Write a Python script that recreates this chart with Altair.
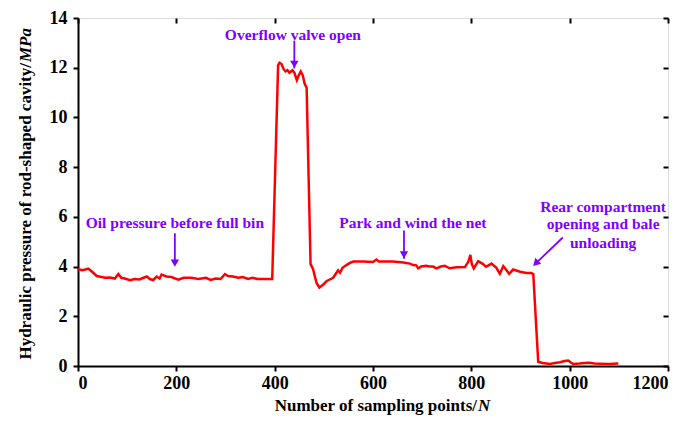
import altair as alt
import pandas as pd

# ---- data ----
xs = [0, 8, 15, 21, 28, 38, 48, 55, 65, 75, 82, 88, 95, 106, 115, 125, 133, 140, 146, 153,
      160, 166, 170, 180, 190, 204, 215, 230, 245, 251, 260, 270, 280, 290, 299, 305, 315, 326,
      335, 346, 355, 365, 380, 395,
      407, 410, 414, 418, 422, 426, 430, 436, 440, 445, 449, 453, 457, 461, 465,
      473, 478, 485, 491, 500, 506, 512, 519, 524, 529, 533, 538, 546, 553, 560, 580, 600, 607,
      612, 620, 640, 662, 675, 682, 688, 692, 698, 708, 715, 722, 729, 738, 746, 756, 770, 787,
      794, 798, 801, 805, 814, 824, 830, 841, 851, 858, 865, 877, 885, 899, 912, 922, 926,
      936, 945, 960, 970, 980, 990, 997, 1007, 1020, 1030, 1041, 1050, 1061, 1080, 1099]
ys = [3.9, 3.85, 3.88, 3.92, 3.8, 3.62, 3.58, 3.55, 3.56, 3.52, 3.7, 3.55, 3.52, 3.45, 3.5,
      3.48, 3.55, 3.6, 3.5, 3.46, 3.6, 3.52, 3.68, 3.6, 3.58, 3.47, 3.55, 3.55, 3.5, 3.52, 3.55,
      3.46, 3.52, 3.5, 3.7, 3.62, 3.6, 3.55, 3.58, 3.5, 3.55, 3.5, 3.5, 3.5,
      12.1, 12.2, 12.15, 11.95, 11.85, 11.9, 11.8, 11.9, 11.8, 11.5, 11.7, 11.85, 11.7, 11.35, 11.2,
      4.1, 3.9, 3.35, 3.15, 3.3, 3.42, 3.48, 3.55, 3.7, 3.85, 3.75, 3.95, 4.06, 4.15, 4.2, 4.2,
      4.18, 4.28, 4.2, 4.2, 4.2, 4.16, 4.12, 4.06, 4.05, 3.93, 4.0, 4.03, 4.0, 4.0, 3.93, 4.0,
      4.03, 3.93, 3.97, 3.98, 4.2, 4.47, 4.1, 3.93, 4.22, 4.1, 3.99, 4.12, 3.95, 3.71, 4.02,
      3.71, 3.88, 3.79, 3.74, 3.74, 3.7,
      0.17, 0.12, 0.08, 0.12, 0.15, 0.2, 0.22, 0.08, 0.1, 0.12, 0.13, 0.1, 0.09, 0.08, 0.1]

x_ticks = [0, 200, 400, 600, 800, 1000, 1200]
y_ticks = [0, 2, 4, 6, 8, 10, 12, 14]

# annotations: text lines and arrows (data coordinates)
ann_text = ["Oil pressure before full bin", "Overflow valve open", "Park and wind the net",
            "Rear compartment", "opening and bale", "unloading"]
ann_x = [197, 437, 681, 1068, 1068, 1068]
ann_y = [5.74, 13.3, 5.74, 6.40, 5.73, 4.93]

arr_x1 = [197, 440, 663, 986]
arr_y1 = [5.34, 13.09, 5.45, 5.17]
arr_x2 = [197, 440, 663, 929]
arr_y2 = [4.10, 11.97, 4.31, 4.09]
head_x = [197, 440, 663, 931]
head_y = [4.14, 12.13, 4.47, 4.13]
head_angle = [0, 0, 0, 45]

PURPLE = "#7F00FF"
FONT = "Liberation Serif"

df = pd.DataFrame({"x": xs, "y": ys})
ann = pd.DataFrame({"x": ann_x, "y": ann_y, "t": ann_text})
arr = pd.DataFrame({"x1": arr_x1, "y1": arr_y1, "x2": arr_x2, "y2": arr_y2})
heads = pd.DataFrame({"x": head_x, "y": head_y, "a": head_angle})

xscale = alt.Scale(domain=[0, 1200], nice=False, zero=False)
yscale = alt.Scale(domain=[0, 14], nice=False, zero=False)

axis_common = dict(grid=False, tickColor="black", tickWidth=2, tickSize=5,
                   domainColor="black", domainWidth=2, format="d",
                   labelFont=FONT, labelFontWeight="bold", labelFontSize=18,
                   labelColor="black", title=None)

line = alt.Chart(df).mark_line(color="#FF0000", strokeWidth=2.5).encode(
    x=alt.X("x:Q", scale=xscale,
            axis=alt.Axis(values=x_ticks, orient="bottom", labelPadding=3, **axis_common)),
    y=alt.Y("y:Q", scale=yscale,
            axis=alt.Axis(values=y_ticks, orient="left", labelPadding=6, **axis_common)),
)

mirror = alt.Chart(df).mark_line(opacity=0).encode(
    x=alt.X("x:Q", scale=xscale,
            axis=alt.Axis(values=x_ticks, orient="top", labels=False, domain=False, offset=-5,
                          grid=False, tickColor="black", tickWidth=2, tickSize=5, title=None)),
    y=alt.Y("y:Q", scale=yscale,
            axis=alt.Axis(values=y_ticks, orient="right", labels=False, domain=False, offset=-5,
                          grid=False, tickColor="black", tickWidth=2, tickSize=5, title=None)),
)

texts = alt.Chart(ann).mark_text(font=FONT, fontWeight="bold", fontSize=15.5, color=PURPLE,
                                 align="center", baseline="middle").encode(
    x=alt.X("x:Q", scale=xscale, axis=None),
    y=alt.Y("y:Q", scale=yscale, axis=None),
    text="t:N",
)

shafts = alt.Chart(arr).mark_rule(color=PURPLE, strokeWidth=1.8).encode(
    x=alt.X("x1:Q", scale=xscale, axis=None),
    y=alt.Y("y1:Q", scale=yscale, axis=None),
    x2="x2:Q",
    y2="y2:Q",
)

arrowheads = alt.Chart(heads).mark_point(shape="triangle-down", filled=True, color=PURPLE,
                                         size=70, opacity=1).encode(
    x=alt.X("x:Q", scale=xscale, axis=None),
    y=alt.Y("y:Q", scale=yscale, axis=None),
    angle=alt.Angle("a:Q", scale=None),
)

one = pd.DataFrame({"k": [0]})
xt1 = alt.Chart(one).mark_text(text="Number of sampling points/", font=FONT, fontWeight="bold",
                               fontSize=17, align="right", baseline="middle", color="black").encode(
    x=alt.value(399), y=alt.value(388))
xt2 = alt.Chart(one).mark_text(text="N", font=FONT, fontWeight="bold", fontStyle="italic",
                               fontSize=17, align="left", baseline="middle", color="black").encode(
    x=alt.value(400), y=alt.value(388))
yt1 = alt.Chart(one).mark_text(text="Hydraulic pressure of rod-shaped cavity/", font=FONT,
                               fontWeight="bold", fontSize=17, align="right", baseline="middle",
                               angle=270, color="black").encode(
    x=alt.value(-52), y=alt.value(45))
yt2 = alt.Chart(one).mark_text(text="MPa", font=FONT, fontWeight="bold", fontStyle="italic",
                               fontSize=17, align="left", baseline="middle", angle=270,
                               color="black").encode(
    x=alt.value(-52), y=alt.value(44))

chart = alt.layer(line, mirror, shafts, arrowheads, texts, xt1, xt2, yt1, yt2).resolve_axis(
    x="independent", y="independent"
).properties(
    width=590, height=348,
    autosize=alt.AutoSizeParams(type="none"),
    padding={"left": 70, "top": 10, "right": 13, "bottom": 52},
).configure_view(stroke="black", strokeWidth=2).configure(background="white")

chart.save("out.html", embed_options={"renderer": "svg", "actions": False})
